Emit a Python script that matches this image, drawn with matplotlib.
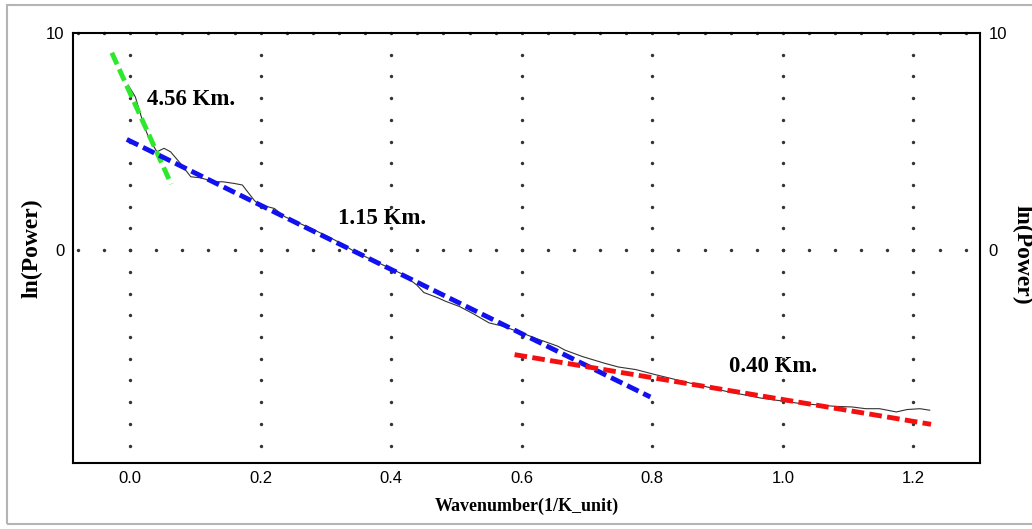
import numpy as np
import matplotlib
matplotlib.use("Agg")
import matplotlib.pyplot as plt
from matplotlib.patches import Rectangle

# power spectrum (black trace)
wavenumber = [-0.003, 0.008, 0.021, 0.028, 0.041, 0.052, 0.062, 0.077, 0.093, 0.108,
              0.129, 0.142, 0.160, 0.172, 0.190, 0.198, 0.211, 0.221, 0.237, 0.283,
              0.314, 0.345, 0.366, 0.417, 0.439, 0.450, 0.472, 0.483, 0.505, 0.527,
              0.550, 0.571, 0.599, 0.627, 0.655, 0.666, 0.693, 0.726, 0.748, 0.775,
              0.803, 0.858, 0.913, 0.968, 1.024, 1.079, 1.106, 1.127, 1.148, 1.174,
              1.190, 1.210, 1.225]
ln_power = [7.6, 7.06, 5.76, 5.22, 4.53, 4.69, 4.53, 4.0, 3.38, 3.33,
            3.15, 3.15, 3.07, 3.0, 2.30, 2.07, 2.0, 1.92, 1.54, 0.92,
            0.46, -0.08, -0.38, -1.1, -1.6, -1.95, -2.2, -2.35, -2.6, -2.95,
            -3.35, -3.5, -3.8, -4.12, -4.42, -4.6, -4.9, -5.2, -5.38, -5.5,
            -5.72, -6.12, -6.5, -6.82, -7.05, -7.19, -7.22, -7.3, -7.3, -7.45,
            -7.34, -7.3, -7.37]

# fitted segments (end points)
deep_x = [-0.028, 0.063]
deep_y = [9.09, 3.04]
mid_x = [-0.005, 0.797]
mid_y = [5.1, -6.76]
shallow_x = [0.589, 1.227]
shallow_y = [-4.81, -8.02]

depth_labels = ["4.56 Km.", "1.15 Km.", "0.40 Km."]
label_pos = [(0.026, 6.96), (0.318, 1.47), (0.917, -5.35)]

xticks = [0.0, 0.2, 0.4, 0.6, 0.8, 1.0, 1.2]
yticks = [0, 10]

serif = "Liberation Serif"
sans = "Liberation Sans"

fig = plt.figure(figsize=(10.32, 5.29), dpi=100)
ax = fig.add_axes([0.0704, 0.1248, 0.8792, 0.8128])
ax.set_xlim(-0.088, 1.302)
ax.set_ylim(-9.8, 10)

# outer grey frame
fig.patches.append(Rectangle((7 / 1032, 1 - 524 / 529), 1.1, 519 / 529,
                             transform=fig.transFigure, fill=False,
                             edgecolor="#b4b4b4", lw=1.5))

# dotted grid
dot_kw = dict(s=6, color="#333333", zorder=1, clip_on=False, linewidths=0)
for xv in xticks:
    ys = np.arange(-9, 10)
    ax.scatter(np.full(len(ys), xv), ys, **dot_kw)
xs = np.arange(-0.08, 1.29, 0.04)
ax.scatter(xs, np.zeros(len(xs)), **dot_kw)
ax.scatter(xs, np.full(len(xs), 10), **dot_kw)

ax.plot(wavenumber, ln_power, color="#333333", lw=0.8, zorder=2)

dash = dict(lw=3.5, linestyle=(0, (2.6, 1.1)), dash_capstyle="butt", zorder=3)
ax.plot(deep_x, deep_y, color="#2ee82e", **dash)
ax.plot(mid_x, mid_y, color="#1010f0", **dash)
ax.plot(shallow_x, shallow_y, color="#f41010", **dash)

for txt, (lx, ly) in zip(depth_labels, label_pos):
    ax.text(lx, ly, txt, fontsize=16.5, fontweight="bold", family=serif,
            ha="left", va="center", zorder=4)

ax.set_xticks(xticks)
ax.set_xticklabels([f"{v:.1f}" for v in xticks], fontsize=12, family=sans)
ax.set_yticks(yticks)
ax.set_yticklabels([str(v) for v in yticks], fontsize=12, family=sans)
ax.tick_params(axis="both", length=0, pad=6)
ax.tick_params(axis="y", right=True, labelright=True)

for sp in ax.spines.values():
    sp.set_linewidth(1.5)

ax.set_xlabel("Wavenumber(1/K_unit)", fontsize=13, fontweight="bold",
              family=serif, labelpad=8)
ax.set_ylabel("ln(Power)", fontsize=17, fontweight="bold", family=serif)
ax.yaxis.set_label_coords(-(72 - 42) / 908, 0.5)
fig.text(1022 / 1032, 1 - 205 / 529, "ln(Power)", fontsize=17,
         fontweight="bold", family=serif, rotation=-90, ha="center", va="top")

fig.savefig("out.png", dpi=100)
